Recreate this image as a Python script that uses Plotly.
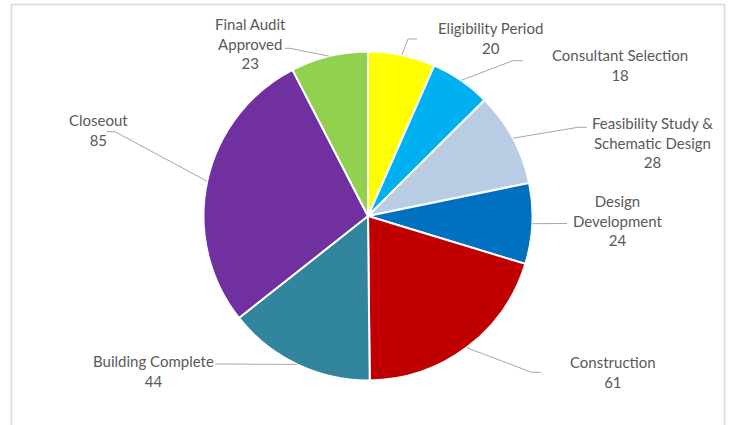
import math
import plotly.graph_objects as go

# ---- data ----
categories = ["Eligibility Period", "Consultant Selection",
              "Feasibility Study &<br>Schematic Design", "Design<br>Development",
              "Construction", "Building Complete", "Closeout", "Final Audit<br>Approved"]
values = [20, 18, 28, 24, 61, 44, 85, 23]
colors = ["#FFFF00", "#00B0F0", "#B8CCE4", "#0070C0",
          "#C00000", "#31859C", "#7030A0", "#92D050"]

# ---- layout geometry (pixels) ----
W, H = 732, 425
CX, CY, R = 368.0, 216.0, 164.5

# label block centres and leader-line knee / end points (pixels)
label_pos = [(490, 37.5), (620, 65), (652, 142), (617, 220.5),
             (613, 372.3), (153, 371), (98, 130), (250, 43)]
leader_pts = [
    [(408, 39), (417, 39)],
    [(513, 60.7), (523, 60.7)],
    [(578, 127.3), (587, 127.3)],
    [(567, 223.5)],
    [(531.7, 372.3), (540.7, 372.3)],
    [(215, 364)],
    [(115, 131.7), (106.7, 131.7)],
    [(290, 48.3), (285, 48.3)],
]


def px(x):
    return x / W


def py(y):
    return 1 - y / H


fig = go.Figure(go.Pie(
    labels=[c.replace("<br>", " ") for c in categories],
    values=values,
    marker=dict(colors=colors, line=dict(color="white", width=2)),
    sort=False, direction="clockwise", rotation=0,
    textinfo="none", hoverinfo="label+value",
    domain=dict(x=[px(CX - R), px(CX + R)], y=[py(CY + R), py(CY - R)]),
    showlegend=False,
))

total = sum(values)
cum = 0
shapes = []
annotations = []
for i, v in enumerate(values):
    mid = (cum + v / 2) / total * 2 * math.pi
    cum += v
    ex, ey = CX + R * math.sin(mid), CY - R * math.cos(mid)
    pts = [(ex, ey)] + leader_pts[i]
    path = "M " + " L ".join(f"{px(x):.5f},{py(y):.5f}" for x, y in pts)
    shapes.append(dict(type="path", xref="paper", yref="paper", path=path,
                       line=dict(color="#A6A6A6", width=1)))
    lx, ly = label_pos[i]
    annotations.append(dict(x=px(lx), y=py(ly), xref="paper", yref="paper",
                            text=f"{categories[i]}<br>{v}", showarrow=False,
                            xanchor="center", yanchor="middle", align="center",
                            font=dict(family="Lato", size=15, color="#595959")))

# chart-area frame
shapes.append(dict(type="rect", xref="paper", yref="paper",
                   x0=px(11.5), x1=px(724.5), y0=py(440), y1=py(4.5),
                   line=dict(color="#D9D9D9", width=1.5), layer="below"))

fig.update_layout(
    width=W, height=H,
    margin=dict(l=0, r=0, t=0, b=0),
    paper_bgcolor="white", plot_bgcolor="white",
    shapes=shapes, annotations=annotations,
)

fig.write_html("out.html", config={"displayModeBar": False},
               post_script="document.body.style.margin='0';document.body.style.overflow='hidden';")
